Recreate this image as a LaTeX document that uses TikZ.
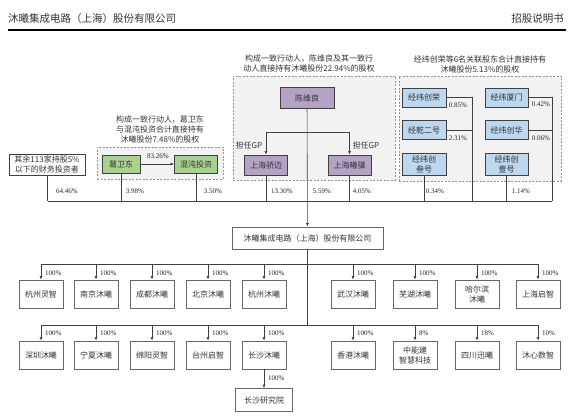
\documentclass[tikz,border=0pt]{standalone}
\usepackage{fontspec}
\setmainfont{Liberation Serif}
\newfontfamily\cjk{Noto Sans CJK SC}
\usepackage{tikz}
\usetikzlibrary{arrows.meta,positioning,backgrounds}
\definecolor{grnfill}{HTML}{A9D18E}
\definecolor{purfill}{HTML}{B4A2C4}
\definecolor{blufill}{HTML}{BDD7EE}
\definecolor{grpfill}{HTML}{F2F2F2}
\definecolor{grpline}{HTML}{8497B0}
\definecolor{lnc}{HTML}{404040}

\begin{document}
\begin{tikzpicture}[x=1pt,y=-1pt,
  every node/.style={font=\cjk\fontsize{8}{10}\selectfont,text=black!80,inner sep=1pt},
  grpbox/.style={draw=grpline,fill=grpfill,dash pattern=on 2pt off 1.5pt,line width=0.8pt},
  holder/.style={draw=lnc,line width=0.9pt,align=center,minimum height=19pt},
  subbox/.style={draw=black!60,line width=0.7pt,minimum width=44pt,minimum height=28pt,align=center},
  pctlbl/.style={font=\rmfamily\fontsize{7}{8}\selectfont,text=black!85},
  linkln/.style={draw=lnc,line width=0.6pt},
  arr/.style={linkln,-{Latex[length=3.5pt,width=3pt]}}]
  \useasboundingbox (0,0) rectangle (574,420);

  % header
  \node[anchor=west,font=\cjk\fontsize{10.5}{12}\selectfont] (hdL) at (7,19) {沐曦集成电路（上海）股份有限公司};
  \node[anchor=east,font=\cjk\fontsize{10.5}{12}\selectfont] (hdR) at (565,19) {招股说明书};
  \coordinate (hdW) at (8,30); \coordinate (hdE) at (566,30);
  \draw[line width=1.1pt] (hdW) -- (hdE);

  % groups
  \node[grpbox,minimum width=126pt,minimum height=32pt] (grpA) at (160,163) {};
  \node[grpbox,minimum width=162pt,minimum height=104pt] (grpB) at (314,128) {};
  \node[grpbox,minimum width=162pt,minimum height=105pt] (grpC) at (480,128.5) {};
  \node[align=center] (grpAtxt) at (160,129)
    {构成一致行动人，葛卫东\\与混沌投资合计直接持有\\沐曦股份7.48\%的股权};
  \node[align=center] (grpBtxt) at (309,63)
    {构成一致行动人，陈维良及其一致行\\动人直接持有沐曦股份22.94\%的股权};
  \node[align=center] (grpCtxt) at (480,64)
    {经纬创荣等6名关联股东合计直接持有\\沐曦股份5.13\%的股权};

  % shareholders
  \node[holder,minimum width=76pt,minimum height=21pt,fill=white] (qy) at (47,164.5)
    {其余113家持股5\%\\以下的财务投资者};
  \node[holder,fill=grnfill,minimum width=38pt,minimum height=18pt] (gwd) at (121,164) {葛卫东};
  \node[holder,fill=grnfill,minimum width=43pt,minimum height=18pt] (hdtz) at (196,164) {混沌投资};
  \node[holder,fill=purfill,minimum width=54pt,minimum height=21pt] (cwl) at (307,98) {陈维良};
  \node[holder,fill=purfill,minimum width=43pt,minimum height=20pt] (shjm) at (266,165) {上海骄迈};
  \node[holder,fill=purfill,minimum width=43pt,minimum height=20pt] (shxj) at (349.5,165) {上海曦骥};
  \node[holder,fill=blufill,minimum width=44pt] (jwcr) at (424,97.5) {经纬创荣};
  \node[holder,fill=blufill,minimum width=44pt] (jqeh) at (424,130) {经乾二号};
  \node[holder,fill=blufill,minimum width=44pt,minimum height=22pt] (jwcs) at (424,164) {经纬创\\叁号};
  \node[holder,fill=blufill,minimum width=43pt] (jwxm) at (506.5,97.5) {经纬厦门};
  \node[holder,fill=blufill,minimum width=43pt] (jwch) at (506.5,130) {经纬创华};
  \node[holder,fill=blufill,minimum width=43pt,minimum height=22pt] (jwcy) at (506.5,164) {经纬创\\壹号};

  \node[holder,draw=black!60,minimum width=151pt,minimum height=22pt] (mx) at (307.5,238)
    {沐曦集成电路（上海）股份有限公司};

  % shareholder links
  \coordinate (busW) at (48,201); \coordinate (busE) at (552,201);
  \coordinate (gpL) at (266,132); \coordinate (gpR) at (349.5,132);
  \coordinate (trA) at (472,97.5); \coordinate (trB) at (552,97.5);
  \draw[linkln] (busW) -- (busE);
  \draw[arr] (gwd) -- (hdtz);
  \node[pctlbl] (p8326) at (158,156) {83.26\%};
  \draw[linkln] (gpL) -- (gpR);
  \draw[arr] (gpL) -- (shjm); \draw[arr] (gpR) -- (shxj);
  \node (gpLtxt) at (249,145) {担任GP};
  \node (gpRtxt) at (366,145) {担任GP};
  \draw[arr] (cwl) -- (mx);
  \draw[linkln] (qy) -- (qy |- busW); \draw[linkln] (gwd) -- (gwd |- busW);
  \draw[linkln] (hdtz) -- (hdtz |- busW); \draw[linkln] (shjm) -- (shjm |- busW);
  \draw[linkln] (shxj) -- (shxj |- busW); \draw[linkln] (jwcs) -- (jwcs |- busW);
  \draw[linkln] (jwcy) -- (jwcy |- busW);
  \draw[linkln] (jwcr) -- (trA) -- (trA |- busW); \draw[linkln] (jqeh) -- (jqeh -| trA);
  \draw[linkln] (jwxm) -- (trB) -- (busE); \draw[linkln] (jwch) -- (jwch -| trB);
  \node[pctlbl] (p6446) at (67,191) {64.46\%};
  \node[pctlbl] (p398) at (135,191) {3.98\%};
  \node[pctlbl] (p350) at (213,191) {3.50\%};
  \node[pctlbl] (p1330) at (282,191) {13.30\%};
  \node[pctlbl] (p559) at (322,191) {5.59\%};
  \node[pctlbl] (p405) at (362,191) {4.05\%};
  \node[pctlbl] (p034) at (435,191) {0.34\%};
  \node[pctlbl] (p114) at (521,191) {1.14\%};
  \node[pctlbl] (p085) at (458,105) {0.85\%};
  \node[pctlbl] (p231) at (458,138) {2.31\%};
  \node[pctlbl] (p042) at (541,104) {0.42\%};
  \node[pctlbl] (p006) at (541,138) {0.06\%};

  % subsidiaries
  \coordinate (r1W) at (41,264); \coordinate (r1E) at (538,264);
  \coordinate (r2W) at (41,325); \coordinate (r2E) at (538,325);
  \coordinate (r2M) at (307.5,325);
  \draw[linkln] (r1W) -- (r1E); \draw[linkln] (r2W) -- (r2E);
  \draw[linkln] (mx) -- (r2M);
  \foreach \nm/\xx/\txt/\pc in {r1a/41/杭州灵智/100\%, r1b/96/南京沐曦/100\%,
      r1c/152/成都沐曦/100\%, r1d/208/北京沐曦/100\%, r1e/264/杭州沐曦/100\%,
      r1f/353/武汉沐曦/100\%, r1g/415/芜湖沐曦/100\%, r1h/477/{哈尔滨\\沐曦}/100\%,
      r1i/538/上海启智/100\%}{
    \node[subbox] (\nm) at (\xx,294) {\txt};
    \draw[arr] (\nm |- r1W) -- (\nm);
    \node[pctlbl,anchor=west] (\nm p) at (\xx+3,273) {\pc};
  }
  \foreach \nm/\xx/\txt/\pc in {r2a/41/深圳沐曦/100\%, r2b/96/宁夏沐曦/100\%,
      r2c/152/绵阳灵智/100\%, r2d/208/台州启智/100\%, r2e/264/长沙沐曦/100\%,
      r2f/353/香港沐曦/100\%, r2g/415/{中能建\\智慧科技}/8\%, r2h/477/四川迅曦/18\%,
      r2i/538/沐心数智/10\%}{
    \node[subbox] (\nm) at (\xx,355) {\txt};
    \draw[arr] (\nm |- r2W) -- (\nm);
    \node[pctlbl,anchor=west] (\nm p) at (\xx+3,333) {\pc};
  }
  \node[subbox,minimum width=57pt,minimum height=23pt] (csyj) at (264,400) {长沙研究院};
  \draw[arr] (r2e) -- (csyj);
  \node[pctlbl,anchor=west] (csyjp) at (267,378) {100\%};
\end{tikzpicture}
\end{document}
